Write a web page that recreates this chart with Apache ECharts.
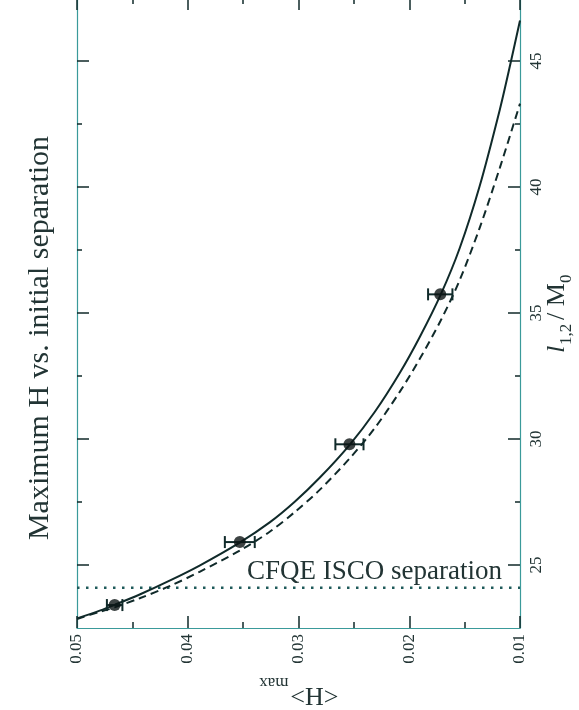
<!DOCTYPE html>
<html>
<head>
<meta charset="utf-8">
<title>Maximum H vs. initial separation</title>
<script src="https://cdn.jsdelivr.net/npm/echarts@6/dist/echarts.min.js"></script>
<style>
  html, body { margin: 0; padding: 0; background: #ffffff; }
  #chart { width: 579px; height: 710px; }
</style>
</head>
<body>
<div id="chart"></div>
<script>
// Measured maxima of <H> with error bars, versus initial separation l_{1,2}/M_0
const pointH   = [0.0466, 0.0353, 0.0254, 0.0172];
const pointL   = [23.41, 25.91, 29.79, 35.74];
const pointErr = [0.0007, 0.00135, 0.00127, 0.0011];

// Solid curve
const solidH = [0.0500, 0.04795, 0.0466, 0.04434, 0.04164, 0.03893, 0.03531, 0.0326, 0.03034, 0.02809,
                0.02538, 0.02312, 0.02086, 0.01905, 0.01716, 0.01544, 0.01364, 0.01183, 0.01084, 0.0100];
const solidL = [22.88, 23.19, 23.42, 23.83, 24.38, 24.98, 25.89, 26.69, 27.51, 28.46,
                29.77, 31.07, 32.62, 34.05, 35.73, 37.58, 40.04, 43.06, 44.94, 46.61];

// Dashed curve
const dashedH = [0.0500, 0.04795, 0.0466, 0.04434, 0.04164, 0.03893, 0.03531, 0.0326, 0.03034, 0.02809,
                 0.02538, 0.02312, 0.02086, 0.01905, 0.01716, 0.01544, 0.01364, 0.01183, 0.0100];
const dashedL = [22.86, 23.14, 23.32, 23.68, 24.16, 24.73, 25.57, 26.32, 27.10, 27.98,
                 29.23, 30.43, 31.87, 33.18, 34.70, 36.31, 38.38, 40.75, 43.31];

// CFQE ISCO separation
const iscoSeparation = 24.1;

// Axis ranges and ticks
const hRange = [0.01, 0.05];
const hTickStep = 0.01;
const lRange = [22.5, 47.5];
const lMajorTicks = [25, 30, 35, 40, 45];
const lMinorTicks = [27.5, 32.5, 37.5, 42.5];

const titleText = 'Maximum H vs. initial separation';
const iscoText = 'CFQE ISCO separation';

const SERIF = '"Liberation Serif", "Times New Roman", serif';
const INK = '#102a2a';
const FRAME = '#3a9a9a';
const TEXT = '#223434';

const chart = echarts.init(document.getElementById('chart'), null, { renderer: 'canvas' });

function zip(a, b) { return a.map((v, i) => [v, b[i]]); }

function hAxis(position, showLabels) {
  return {
    type: 'value', position: position, inverse: true,
    min: hRange[0], max: hRange[1], interval: hTickStep,
    axisLine: { show: true, lineStyle: { color: FRAME, width: 1.2 } },
    axisTick: { show: true, inside: true, length: 12, lineStyle: { color: INK, width: 1.5 } },
    minorTick: { show: true, splitNumber: 2, length: 6, lineStyle: { color: INK, width: 1.5 } },
    splitLine: { show: false },
    axisLabel: {
      show: showLabels, rotate: 90, margin: 6,
      fontFamily: SERIF, fontSize: 17, color: TEXT,
      showMinLabel: true, showMaxLabel: true,
      formatter: v => v.toFixed(2)
    }
  };
}

function lAxis(position, ticks, len, showLabels, showLine) {
  return {
    type: 'value', position: position,
    min: lRange[0], max: lRange[1],
    axisLine: { show: showLine, lineStyle: { color: FRAME, width: 1.2 } },
    axisTick: { show: true, inside: true, length: len, customValues: ticks,
                lineStyle: { color: INK, width: 1.5 } },
    splitLine: { show: false },
    axisLabel: {
      show: showLabels, customValues: ticks, rotate: 90, margin: 8,
      fontFamily: SERIF, fontSize: 17, color: TEXT
    }
  };
}

chart.setOption({
  animation: false,
  backgroundColor: '#ffffff',
  grid: { left: 77, right: 59, top: -2, bottom: 82, containLabel: false, outerBoundsMode: 'none' },
  xAxis: [hAxis('bottom', true), hAxis('top', false)],
  yAxis: [
    lAxis('right', lMajorTicks, 12, true, true),
    lAxis('right', lMinorTicks, 5, false, false),
    lAxis('left', lMajorTicks, 12, false, true),
    lAxis('left', lMinorTicks, 5, false, false)
  ],
  series: [
    {
      type: 'line', name: 'isco', data: [[hRange[1], iscoSeparation], [hRange[0], iscoSeparation]],
      symbol: 'none', silent: true,
      lineStyle: { color: '#1f5a5a', width: 2.5, type: [2.5, 6.5], cap: 'butt' },
      z: 2
    },
    {
      type: 'line', name: 'dashed', data: zip(dashedH, dashedL),
      symbol: 'none', smooth: 0.3, clip: true,
      lineStyle: { color: INK, width: 2, type: [8, 5] },
      z: 3
    },
    {
      type: 'line', name: 'solid', data: zip(solidH, solidL),
      symbol: 'none', smooth: 0.3, clip: true,
      lineStyle: { color: INK, width: 2 },
      z: 4
    },
    {
      type: 'custom', name: 'errors',
      data: pointH.map((h, i) => [h, pointL[i], pointErr[i]]),
      renderItem: function (params, api) {
        const h = api.value(0), l = api.value(1), e = api.value(2);
        const a = api.coord([h - e, l]);
        const b = api.coord([h + e, l]);
        const cap = 6;
        const st = { stroke: INK, lineWidth: 2 };
        return {
          type: 'group',
          children: [
            { type: 'line', shape: { x1: a[0], y1: a[1], x2: b[0], y2: b[1] }, style: st },
            { type: 'line', shape: { x1: a[0], y1: a[1] - cap, x2: a[0], y2: a[1] + cap }, style: st },
            { type: 'line', shape: { x1: b[0], y1: b[1] - cap, x2: b[0], y2: b[1] + cap }, style: st }
          ]
        };
      },
      z: 5
    },
    {
      type: 'scatter', name: 'points', data: zip(pointH, pointL),
      symbol: 'circle', symbolSize: 12,
      itemStyle: { color: '#0c1414' },
      z: 6
    }
  ]
});

// Text placed relative to the plot frame
const toPx = v => chart.convertToPixel({ gridIndex: 0 }, v);
const frameRight = toPx([hRange[0], lRange[0]])[0];
const frameLeft = toPx([hRange[1], lRange[0]])[0];
const frameBottom = toPx([hRange[0], lRange[0]])[1];
const iscoY = toPx([hRange[0], iscoSeparation])[1];

function txt(x, y, text, size, opts) {
  return {
    type: 'text', x: x, y: y,
    style: Object.assign({
      text: text, font: size + 'px ' + SERIF, fill: TEXT,
      align: 'left', textAlign: 'left', verticalAlign: 'middle', textVerticalAlign: 'middle'
    }, opts || {})
  };
}

chart.setOption({
  graphic: [
    // title along the left side
    {
      type: 'text', x: 40, y: 338, rotation: Math.PI / 2,
      style: { text: titleText, font: '30px ' + SERIF, fill: TEXT,
               align: 'center', textAlign: 'center', verticalAlign: 'middle', textVerticalAlign: 'middle' }
    },
    // ISCO label
    {
      type: 'text', x: frameRight - 18, y: iscoY - 15.5,
      style: { text: iscoText, font: '27px ' + SERIF, fill: TEXT,
               align: 'right', textAlign: 'right', verticalAlign: 'middle', textVerticalAlign: 'middle' }
    },
    // vertical axis name: l_{1,2} / M_0
    {
      type: 'group', x: frameRight + 46, y: 353, rotation: Math.PI / 2,
      children: [
        txt(0, -8.5, 'l', 26, { font: 'italic 26px ' + SERIF }),
        txt(8, 1, '1,2', 17),
        txt(33, -8.5, '/ M', 26),
        txt(70, 1, '0', 17)
      ]
    },
    // horizontal axis name: <H>_max
    {
      type: 'group', x: (frameLeft + frameRight) / 2 + 0.5, y: frameBottom + 58, rotation: Math.PI,
      children: [
        txt(-39.5, -8.5, '<H>', 26),
        txt(10.5, 4, 'max', 17)
      ]
    }
  ]
});
</script>
</body>
</html>
